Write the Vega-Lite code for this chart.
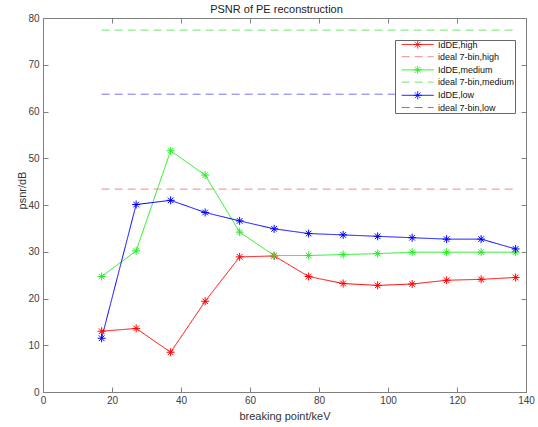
{
  "$schema": "https://vega.github.io/schema/vega-lite/v6.json",
  "width": 483,
  "height": 374,
  "autosize": {"type": "none"},
  "padding": {"left": 43, "top": 18, "right": 12, "bottom": 35},
  "background": "white",
  "config": {
    "view": {"stroke": null},
    "font": "Liberation Sans",
    "axis": {
      "grid": false,
      "domainColor": "#808080",
      "tickColor": "#808080",
      "tickSize": -5,
      "labelFont": "Liberation Sans",
      "titleFont": "Liberation Sans",
      "labelColor": "#404040",
      "labelFontSize": 10,
      "labelFlush": false,
      "labelOverlap": false,
      "titleFontSize": 11,
      "titleFontWeight": "normal",
      "titleColor": "#333333"
    },
    "legend": {"labelFont": "Liberation Sans"}
  },
  "title": {
    "text": "PSNR of PE reconstruction",
    "font": "Liberation Sans",
    "fontSize": 11,
    "fontWeight": "normal",
    "color": "#222222",
    "anchor": "middle",
    "dx": -8,
    "offset": -2
  },
  "data": {
    "values": [
      {"x": 17, "psnr": 13.0, "series": "IdDE,high"},
      {"x": 27, "psnr": 13.6, "series": "IdDE,high"},
      {"x": 37, "psnr": 8.5, "series": "IdDE,high"},
      {"x": 47, "psnr": 19.4, "series": "IdDE,high"},
      {"x": 57, "psnr": 28.9, "series": "IdDE,high"},
      {"x": 67, "psnr": 29.1, "series": "IdDE,high"},
      {"x": 77, "psnr": 24.7, "series": "IdDE,high"},
      {"x": 87, "psnr": 23.2, "series": "IdDE,high"},
      {"x": 97, "psnr": 22.8, "series": "IdDE,high"},
      {"x": 107, "psnr": 23.1, "series": "IdDE,high"},
      {"x": 117, "psnr": 23.9, "series": "IdDE,high"},
      {"x": 127, "psnr": 24.1, "series": "IdDE,high"},
      {"x": 137, "psnr": 24.5, "series": "IdDE,high"},
      {"x": 17, "psnr": 43.4, "series": "ideal 7-bin,high"},
      {"x": 137, "psnr": 43.4, "series": "ideal 7-bin,high"},
      {"x": 17, "psnr": 24.7, "series": "IdDE,medium"},
      {"x": 27, "psnr": 30.2, "series": "IdDE,medium"},
      {"x": 37, "psnr": 51.6, "series": "IdDE,medium"},
      {"x": 47, "psnr": 46.4, "series": "IdDE,medium"},
      {"x": 57, "psnr": 34.2, "series": "IdDE,medium"},
      {"x": 67, "psnr": 29.2, "series": "IdDE,medium"},
      {"x": 77, "psnr": 29.2, "series": "IdDE,medium"},
      {"x": 87, "psnr": 29.4, "series": "IdDE,medium"},
      {"x": 97, "psnr": 29.6, "series": "IdDE,medium"},
      {"x": 107, "psnr": 29.9, "series": "IdDE,medium"},
      {"x": 117, "psnr": 29.9, "series": "IdDE,medium"},
      {"x": 127, "psnr": 29.9, "series": "IdDE,medium"},
      {"x": 137, "psnr": 29.9, "series": "IdDE,medium"},
      {"x": 17, "psnr": 77.4, "series": "ideal 7-bin,medium"},
      {"x": 137, "psnr": 77.4, "series": "ideal 7-bin,medium"},
      {"x": 17, "psnr": 11.5, "series": "IdDE,low"},
      {"x": 27, "psnr": 40.1, "series": "IdDE,low"},
      {"x": 37, "psnr": 41.0, "series": "IdDE,low"},
      {"x": 47, "psnr": 38.4, "series": "IdDE,low"},
      {"x": 57, "psnr": 36.6, "series": "IdDE,low"},
      {"x": 67, "psnr": 34.9, "series": "IdDE,low"},
      {"x": 77, "psnr": 33.9, "series": "IdDE,low"},
      {"x": 87, "psnr": 33.6, "series": "IdDE,low"},
      {"x": 97, "psnr": 33.3, "series": "IdDE,low"},
      {"x": 107, "psnr": 33.0, "series": "IdDE,low"},
      {"x": 117, "psnr": 32.7, "series": "IdDE,low"},
      {"x": 127, "psnr": 32.7, "series": "IdDE,low"},
      {"x": 137, "psnr": 30.6, "series": "IdDE,low"},
      {"x": 17, "psnr": 63.7, "series": "ideal 7-bin,low"},
      {"x": 137, "psnr": 63.7, "series": "ideal 7-bin,low"}
    ]
  },
  "layer": [
    {
      "mark": {"type": "line", "strokeWidth": 1},
      "encoding": {
        "x": {
          "field": "x", "type": "quantitative",
          "scale": {"domain": [0, 140], "nice": false},
          "axis": {"orient": "bottom", "values": [0, 20, 40, 60, 80, 100, 120, 140], "title": "breaking point/keV", "labelPadding": 8, "titlePadding": 5}
        },
        "y": {
          "field": "psnr", "type": "quantitative",
          "scale": {"domain": [0, 80], "nice": false},
          "axis": {"orient": "left", "values": [0, 10, 20, 30, 40, 50, 60, 70, 80], "title": "psnr/dB", "labelPadding": 9, "titleX": -21, "titleY": 172, "titleAngle": -90, "titleAlign": "center", "titleBaseline": "middle"}
        },
        "color": {
          "field": "series", "type": "nominal",
          "scale": {
            "domain": ["IdDE,high", "ideal 7-bin,high", "IdDE,medium", "ideal 7-bin,medium", "IdDE,low", "ideal 7-bin,low"],
            "range": ["#ff0000", "#f08a8a", "#22ee22", "#70e870", "#0000ff", "#7474e8"]
          },
          "legend": {
            "title": null,
            "orient": "none",
            "legendX": 352,
            "legendY": 22,
            "padding": 0,
            "strokeColor": "#666666",
            "fillColor": "white",
            "labelFont": "Liberation Sans",
            "labelFontSize": 9,
            "labelColor": "#111111",
            "labelOffset": 34,
            "rowPadding": 1.2,
            "symbolSize": 4,
            "symbolStrokeWidth": 1,
            "encode": {
              "symbols": {
                "update": {
                  "shape": {"signal": "indexof(datum.value,'ideal')>=0 ? 'M2.2,0L34.2,0' : 'M2.2,0L34.2,0M18.2,-4L18.2,4M14.2,0L22.2,0M15.4,-2.8L21,2.8M15.4,2.8L21,-2.8'"}
                }
              }
            }
          }
        },
        "strokeDash": {
          "field": "series", "type": "nominal",
          "scale": {
            "domain": ["IdDE,high", "ideal 7-bin,high", "IdDE,medium", "ideal 7-bin,medium", "IdDE,low", "ideal 7-bin,low"],
            "range": [[1, 0], [8, 5], [1, 0], [8, 5], [1, 0], [8, 5]]
          },
          "legend": {
            "title": null,
            "orient": "none",
            "legendX": 352,
            "legendY": 22,
            "padding": 0,
            "strokeColor": "#666666",
            "fillColor": "white",
            "labelFont": "Liberation Sans",
            "labelFontSize": 9,
            "labelColor": "#111111",
            "labelOffset": 34,
            "rowPadding": 1.2,
            "symbolSize": 4,
            "symbolStrokeWidth": 1
          }
        }
      }
    },
    {
      "transform": [{"filter": "indexof(datum.series,'ideal')<0"}],
      "mark": {"type": "point", "shape": "M0,-1L0,1M-1,0L1,0M-0.7,-0.7L0.7,0.7M-0.7,0.7L0.7,-0.7", "filled": false, "size": 64, "strokeWidth": 1, "opacity": 1},
      "encoding": {
        "x": {
          "field": "x", "type": "quantitative",
          "scale": {"domain": [0, 140], "nice": false},
          "axis": {"orient": "top", "values": [0, 20, 40, 60, 80, 100, 120, 140], "labels": false, "title": null}
        },
        "y": {
          "field": "psnr", "type": "quantitative",
          "scale": {"domain": [0, 80], "nice": false},
          "axis": {"orient": "right", "values": [0, 10, 20, 30, 40, 50, 60, 70, 80], "labels": false, "title": null}
        },
        "stroke": {
          "field": "series", "type": "nominal",
          "scale": {
            "domain": ["IdDE,high", "IdDE,medium", "IdDE,low"],
            "range": ["#ff0000", "#22ee22", "#0000ff"]
          },
          "legend": null
        }
      }
    }
  ],
  "resolve": {"axis": {"x": "independent", "y": "independent"}}
}
